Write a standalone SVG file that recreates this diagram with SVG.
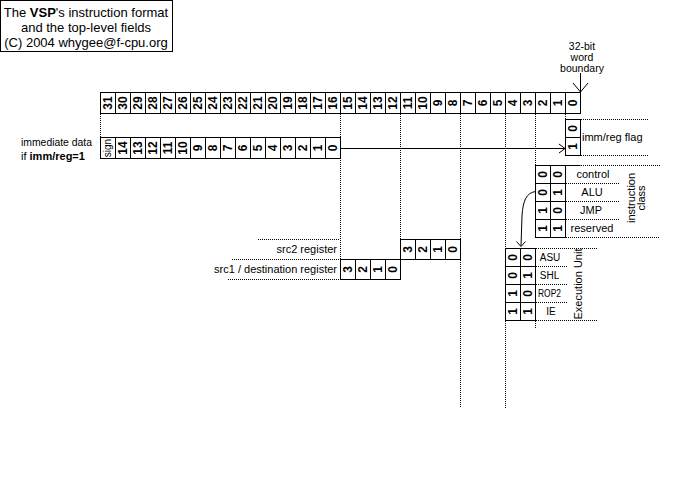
<svg xmlns="http://www.w3.org/2000/svg" width="700" height="500" viewBox="0 0 700 500">
<style>
text{font-family:"Liberation Sans",Arial,sans-serif;fill:#000}
.d{font-size:12px;font-weight:bold;text-anchor:middle}
.l{font-size:11px}
.c{font-size:11px;text-anchor:middle}
.e{font-size:10px;text-anchor:middle}
.b{font-size:10.5px;text-anchor:middle}
.r{font-size:11px;text-anchor:end}
.box{fill:#fff;stroke:#000;stroke-width:1}
.ln{fill:none;stroke:#000;stroke-width:1}
.dot{fill:none;stroke:#000;stroke-width:1;stroke-dasharray:1,1}
</style>
<rect width="700" height="500" fill="#fff"/>
<g id="title">
<rect class="box" x="0.5" y="0.5" width="172" height="51"/>
<text x="86" y="17" text-anchor="middle" font-size="13">The <tspan font-weight="bold">VSP</tspan>'s instruction format</text>
<text x="86" y="32" text-anchor="middle" font-size="13">and the top-level fields</text>
<text x="86" y="47" text-anchor="middle" font-size="13">(C) 2004 whygee@f-cpu.org</text>
</g>
<g id="connectors">
<path class="dot" d="M100.5,114V137M340.5,114V259M400.5,114V239M460.5,114V408M505.5,114V248M505.5,321V408M535.5,114V165M565.5,114V119M535.5,321V328"/>
<path class="dot" d="M581,119.5H648M581,155.5H648M581,165.5H660M566,183.5H620M566,201.5H620M566,219.5H620M566,237.5H660M536,248.5H598M536,266.5H567M536,284.5H567M536,302.5H567M536,320.5H598M258,239.5H340M232,259.5H340M228,279.5H340"/>
<path class="ln" d="M535.5,165.5H580.5"/>
<path class="ln" d="M341,148.5H565M559,144L565,148.5L559,153"/>
<path class="ln" d="M580.5,73V92M573,83L580.5,92L588,83"/>
<path class="ln" d="M535.5,191.5C526,193 523,201 522,216L521,246M516.5,241.5L521,246.5L525.5,241.5"/>
</g>
<g id="boundary-label">
<text class="b" x="582" y="50">32-bit</text>
<text class="b" x="582" y="61">word</text>
<text class="b" x="582" y="72">boundary</text>
</g>
<g id="bit-row">
<rect class="box" x="100.5" y="92.5" width="480" height="21"/>
<path class="ln" d="M115.5,92.5v21M130.5,92.5v21M145.5,92.5v21M160.5,92.5v21M175.5,92.5v21M190.5,92.5v21M205.5,92.5v21M220.5,92.5v21M235.5,92.5v21M250.5,92.5v21M265.5,92.5v21M280.5,92.5v21M295.5,92.5v21M310.5,92.5v21M325.5,92.5v21M340.5,92.5v21M355.5,92.5v21M370.5,92.5v21M385.5,92.5v21M400.5,92.5v21M415.5,92.5v21M430.5,92.5v21M445.5,92.5v21M460.5,92.5v21M475.5,92.5v21M490.5,92.5v21M505.5,92.5v21M520.5,92.5v21M535.5,92.5v21M550.5,92.5v21M565.5,92.5v21"/>
<text class="d" transform="translate(108,103) rotate(-90)" y="4.3">31</text>
<text class="d" transform="translate(123,103) rotate(-90)" y="4.3">30</text>
<text class="d" transform="translate(138,103) rotate(-90)" y="4.3">29</text>
<text class="d" transform="translate(153,103) rotate(-90)" y="4.3">28</text>
<text class="d" transform="translate(168,103) rotate(-90)" y="4.3">27</text>
<text class="d" transform="translate(183,103) rotate(-90)" y="4.3">26</text>
<text class="d" transform="translate(198,103) rotate(-90)" y="4.3">25</text>
<text class="d" transform="translate(213,103) rotate(-90)" y="4.3">24</text>
<text class="d" transform="translate(228,103) rotate(-90)" y="4.3">23</text>
<text class="d" transform="translate(243,103) rotate(-90)" y="4.3">22</text>
<text class="d" transform="translate(258,103) rotate(-90)" y="4.3">21</text>
<text class="d" transform="translate(273,103) rotate(-90)" y="4.3">20</text>
<text class="d" transform="translate(288,103) rotate(-90)" y="4.3">19</text>
<text class="d" transform="translate(303,103) rotate(-90)" y="4.3">18</text>
<text class="d" transform="translate(318,103) rotate(-90)" y="4.3">17</text>
<text class="d" transform="translate(333,103) rotate(-90)" y="4.3">16</text>
<text class="d" transform="translate(348,103) rotate(-90)" y="4.3">15</text>
<text class="d" transform="translate(363,103) rotate(-90)" y="4.3">14</text>
<text class="d" transform="translate(378,103) rotate(-90)" y="4.3">13</text>
<text class="d" transform="translate(393,103) rotate(-90)" y="4.3">12</text>
<text class="d" transform="translate(408,103) rotate(-90)" y="4.3">11</text>
<text class="d" transform="translate(423,103) rotate(-90)" y="4.3">10</text>
<text class="d" transform="translate(438,103) rotate(-90)" y="4.3">9</text>
<text class="d" transform="translate(453,103) rotate(-90)" y="4.3">8</text>
<text class="d" transform="translate(468,103) rotate(-90)" y="4.3">7</text>
<text class="d" transform="translate(483,103) rotate(-90)" y="4.3">6</text>
<text class="d" transform="translate(498,103) rotate(-90)" y="4.3">5</text>
<text class="d" transform="translate(513,103) rotate(-90)" y="4.3">4</text>
<text class="d" transform="translate(528,103) rotate(-90)" y="4.3">3</text>
<text class="d" transform="translate(543,103) rotate(-90)" y="4.3">2</text>
<text class="d" transform="translate(558,103) rotate(-90)" y="4.3">1</text>
<text class="d" transform="translate(573,103) rotate(-90)" y="4.3">0</text>
</g>
<g id="immediate">
<text class="l" x="21" y="146" textLength="71" lengthAdjust="spacingAndGlyphs">immediate data</text>
<text class="l" x="21" y="160">if <tspan font-weight="bold">imm/reg=1</tspan></text>
<rect class="box" x="100.5" y="137.5" width="240" height="21"/>
<path class="ln" d="M115.5,137.5v21M130.5,137.5v21M145.5,137.5v21M160.5,137.5v21M175.5,137.5v21M190.5,137.5v21M205.5,137.5v21M220.5,137.5v21M235.5,137.5v21M250.5,137.5v21M265.5,137.5v21M280.5,137.5v21M295.5,137.5v21M310.5,137.5v21M325.5,137.5v21"/>
<text transform="translate(108,148) rotate(-90)" y="3" font-size="10" text-anchor="middle">sign</text>
<text class="d" transform="translate(123,148) rotate(-90)" y="4.3">14</text>
<text class="d" transform="translate(138,148) rotate(-90)" y="4.3">13</text>
<text class="d" transform="translate(153,148) rotate(-90)" y="4.3">12</text>
<text class="d" transform="translate(168,148) rotate(-90)" y="4.3">11</text>
<text class="d" transform="translate(183,148) rotate(-90)" y="4.3">10</text>
<text class="d" transform="translate(198,148) rotate(-90)" y="4.3">9</text>
<text class="d" transform="translate(213,148) rotate(-90)" y="4.3">8</text>
<text class="d" transform="translate(228,148) rotate(-90)" y="4.3">7</text>
<text class="d" transform="translate(243,148) rotate(-90)" y="4.3">6</text>
<text class="d" transform="translate(258,148) rotate(-90)" y="4.3">5</text>
<text class="d" transform="translate(273,148) rotate(-90)" y="4.3">4</text>
<text class="d" transform="translate(288,148) rotate(-90)" y="4.3">3</text>
<text class="d" transform="translate(303,148) rotate(-90)" y="4.3">2</text>
<text class="d" transform="translate(318,148) rotate(-90)" y="4.3">1</text>
<text class="d" transform="translate(333,148) rotate(-90)" y="4.3">0</text>
</g>
<g id="imm-reg-flag">
<rect class="box" x="565.5" y="119.5" width="15" height="18"/>
<rect class="box" x="565.5" y="137.5" width="15" height="18"/>
<text class="d" transform="translate(573,128.5) rotate(-90)" y="4.3">0</text>
<text class="d" transform="translate(573,146.5) rotate(-90)" y="4.3">1</text>
<text class="l" x="582" y="141">imm/reg flag</text>
</g>
<g id="instruction-class">
<rect class="box" x="535.5" y="165.5" width="30" height="72"/>
<path class="ln" d="M550.5,165.5v72M535.5,183.5h30M535.5,201.5h30M535.5,219.5h30"/>
<text class="d" transform="translate(543,174.5) rotate(-90)" y="4.3">0</text>
<text class="d" transform="translate(558,174.5) rotate(-90)" y="4.3">0</text>
<text class="d" transform="translate(543,192.5) rotate(-90)" y="4.3">0</text>
<text class="d" transform="translate(558,192.5) rotate(-90)" y="4.3">1</text>
<text class="d" transform="translate(543,210.5) rotate(-90)" y="4.3">1</text>
<text class="d" transform="translate(558,210.5) rotate(-90)" y="4.3">0</text>
<text class="d" transform="translate(543,228.5) rotate(-90)" y="4.3">1</text>
<text class="d" transform="translate(558,228.5) rotate(-90)" y="4.3">1</text>
<text class="c" x="593" y="178">control</text>
<text class="c" x="592" y="196">ALU</text>
<text class="c" x="591" y="214">JMP</text>
<text class="c" x="592" y="232">reserved</text>
<text class="c" transform="translate(636,198) rotate(-90)" y="-1">instruction</text>
<text class="c" transform="translate(636,198) rotate(-90)" y="9">class</text>
</g>
<g id="src2">
<text class="r" x="337" y="253">src2 register</text>
<rect class="box" x="400.5" y="239.5" width="60" height="20"/>
<path class="ln" d="M415.5,239.5v20M430.5,239.5v20M445.5,239.5v20"/>
<text class="d" transform="translate(408,249.5) rotate(-90)" y="4.3">3</text>
<text class="d" transform="translate(423,249.5) rotate(-90)" y="4.3">2</text>
<text class="d" transform="translate(438,249.5) rotate(-90)" y="4.3">1</text>
<text class="d" transform="translate(453,249.5) rotate(-90)" y="4.3">0</text>
</g>
<g id="src1">
<text class="r" x="337" y="273">src1 / destination register</text>
<rect class="box" x="340.5" y="259.5" width="60" height="20"/>
<path class="ln" d="M355.5,259.5v20M370.5,259.5v20M385.5,259.5v20"/>
<text class="d" transform="translate(348,269.5) rotate(-90)" y="4.3">3</text>
<text class="d" transform="translate(363,269.5) rotate(-90)" y="4.3">2</text>
<text class="d" transform="translate(378,269.5) rotate(-90)" y="4.3">1</text>
<text class="d" transform="translate(393,269.5) rotate(-90)" y="4.3">0</text>
</g>
<g id="execution-unit">
<rect class="box" x="505.5" y="248.5" width="30" height="72"/>
<path class="ln" d="M520.5,248.5v72M505.5,266.5h30M505.5,284.5h30M505.5,302.5h30"/>
<text class="d" transform="translate(513,257.5) rotate(-90)" y="4.3">0</text>
<text class="d" transform="translate(528,257.5) rotate(-90)" y="4.3">0</text>
<text class="d" transform="translate(513,275.5) rotate(-90)" y="4.3">0</text>
<text class="d" transform="translate(528,275.5) rotate(-90)" y="4.3">1</text>
<text class="d" transform="translate(513,293.5) rotate(-90)" y="4.3">1</text>
<text class="d" transform="translate(528,293.5) rotate(-90)" y="4.3">0</text>
<text class="d" transform="translate(513,311.5) rotate(-90)" y="4.3">1</text>
<text class="d" transform="translate(528,311.5) rotate(-90)" y="4.3">1</text>
<text class="e" x="550" y="261">ASU</text>
<text class="e" x="549.5" y="279">SHL</text>
<text class="l" x="538" y="297" font-size="10" textLength="23" lengthAdjust="spacingAndGlyphs">ROP2</text>
<text class="e" x="551" y="315">IE</text>
<text class="c" transform="translate(582,284) rotate(-90)">Execution Unit</text>
</g>
</svg>
